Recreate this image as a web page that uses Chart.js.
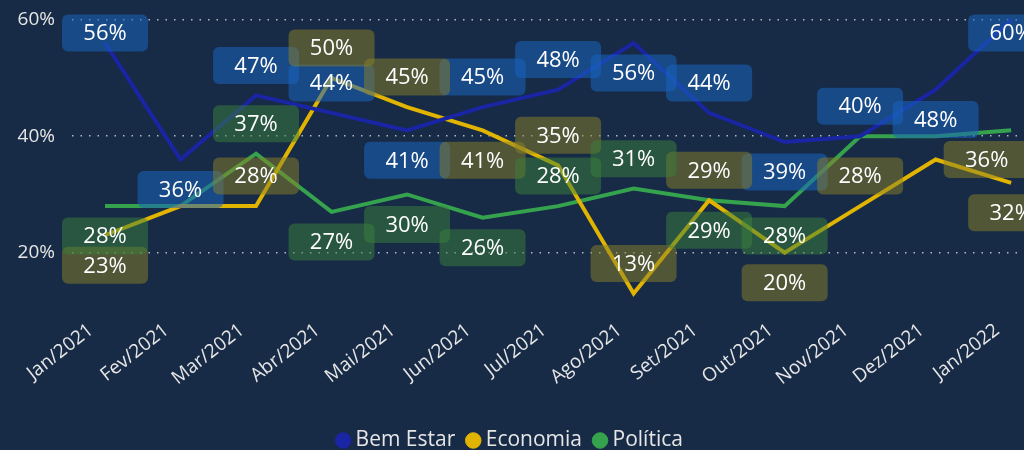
<!DOCTYPE html>
<html>
<head>
<meta charset="utf-8">
<script src="https://cdn.jsdelivr.net/npm/chart.js@4.4.0/dist/chart.umd.min.js"></script>
<style>
  html, body { margin: 0; padding: 0; background: #172a46; }
  #wrap { width: 1024px; height: 450px; }
</style>
</head>
<body>
<div id="wrap"><canvas id="grafico"></canvas></div>
<script>
// --- dati ---
const meses = ['Jan/2021', 'Fev/2021', 'Mar/2021', 'Abr/2021', 'Mai/2021', 'Jun/2021', 'Jul/2021',
               'Ago/2021', 'Set/2021', 'Out/2021', 'Nov/2021', 'Dez/2021', 'Jan/2022'];
const bemEstar = [56, 36, 47, 44, 41, 45, 48, 56, 44, 39, 40, 48, 60];
const economia = [23, 28, 28, 50, 45, 41, 35, 13, 29, 20, 28, 36, 32];
const politica = [28, 28, 37, 27, 30, 26, 28, 31, 29, 28, 40, 40, 41];
const yTicks = [20, 40, 60];

// posizione etichette: 'a' sopra, 'b' sotto, 'r' a destra, null = nascosta
const posBemEstar = ['a', 'b', 'a', 'a', 'b', 'a', 'a', 'b', 'a', 'b', 'a', 'b', 'a'];
const posEconomia = ['b', null, 'a', 'a', 'a', 'b', 'a', 'a', 'a', 'b', 'a', 'r', 'b'];
const posPolitica = ['b', null, 'a', 'b', 'b', 'b', 'a', 'a', 'b', 'b', null, null, null];

const FONT = "'Open Sans', 'Noto Sans', sans-serif";
Chart.defaults.font.family = FONT;
Chart.defaults.color = '#e6e6e6';

// etichette con riquadro arrotondato semitrasparente
const etichette = {
  id: 'etichette',
  afterDatasetsDraw(chart) {
    const ctx = chart.ctx;
    const xs = chart.scales.x, ys = chart.scales.y;
    chart.data.datasets.forEach(ds => {
      ds.data.forEach((pt, i) => {
        const p = ds.posEtichette[i];
        if (!p) return;
        let cx = xs.getPixelForValue(pt.x);
        let cy = ys.getPixelForValue(pt.y);
        if (p === 'a') cy -= 30;
        if (p === 'b') cy += 30;
        if (p === 'r') cx += 51;
        cy = Math.max(cy, 33);
        const w = 86, h = 37;
        ctx.save();
        ctx.fillStyle = ds.coloreBox;
        ctx.beginPath();
        ctx.roundRect(cx - w / 2, cy - h / 2, w, h, 6);
        ctx.fill();
        ctx.fillStyle = '#ffffff';
        ctx.font = '22px ' + FONT;
        ctx.textAlign = 'center';
        ctx.textBaseline = 'middle';
        ctx.fillText(pt.y + '%', cx, cy + 1);
        ctx.restore();
      });
    });
  }
};

new Chart(document.getElementById('grafico'), {
  type: 'line',
  data: {
    labels: meses,
    datasets: [
      { label: 'Bem Estar', data: bemEstar.map((v, i) => ({ x: i, y: v })), borderColor: '#1a25a4', backgroundColor: '#1a25a4',
        posEtichette: posBemEstar, coloreBox: 'rgba(25,100,190,0.55)' },
      { label: 'Economia', data: economia.map((v, i) => ({ x: i, y: v })), borderColor: '#e0b400', backgroundColor: '#e0b400',
        posEtichette: posEconomia, coloreBox: 'rgba(140,130,40,0.5)' },
      { label: 'Política', data: politica.map((v, i) => ({ x: i, y: v })), borderColor: '#35a34d', backgroundColor: '#35a34d',
        posEtichette: posPolitica, coloreBox: 'rgba(60,130,60,0.5)' }
    ]
  },
  plugins: [etichette],
  options: {
    responsive: true,
    maintainAspectRatio: false,
    animation: false,
    elements: {
      line: { borderWidth: 4, tension: 0 },
      point: { radius: 0 }
    },
    layout: { padding: { top: 8, right: 0, left: 0, bottom: -11 } },
    plugins: {
      tooltip: { enabled: false },
      legend: {
        position: 'bottom',
        labels: {
          usePointStyle: true,
          pointStyle: 'circle',
          boxWidth: 4,
          boxHeight: 11,
          padding: 16,
          color: '#e6e6e6',
          font: { size: 21 }
        }
      }
    },
    scales: {
      x: {
        type: 'linear',
        min: -0.437,
        max: 12.17,
        afterBuildTicks: axis => { axis.ticks = meses.map((m, i) => ({ value: i })); },
        afterFit: scale => { scale.height = 103; scale.paddingLeft = 0; scale.paddingRight = 0; },
        grid: { display: false },
        border: { display: false },
        ticks: {
          autoSkip: false,
          maxRotation: 38,
          minRotation: 38,
          labelOffset: -14,
          padding: 0,
          color: '#e6e6e6',
          font: { size: 19 },
          callback: v => meses[v]
        }
      },
      y: {
        min: 10,
        max: 62,
        afterBuildTicks: axis => { axis.ticks = yTicks.map(v => ({ value: v })); },
        afterFit: scale => { scale.width = 72; scale.paddingTop = 0; scale.paddingBottom = 0; },
        grid: { color: 'rgba(210,210,210,0.85)', lineWidth: 1.5, drawTicks: false },
        border: { display: false, dash: [1.5, 7] },
        ticks: {
          padding: 17,
          color: '#e6e6e6',
          font: { size: 19 },
          callback: v => v + '%'
        }
      }
    }
  }
});
</script>
</body>
</html>
